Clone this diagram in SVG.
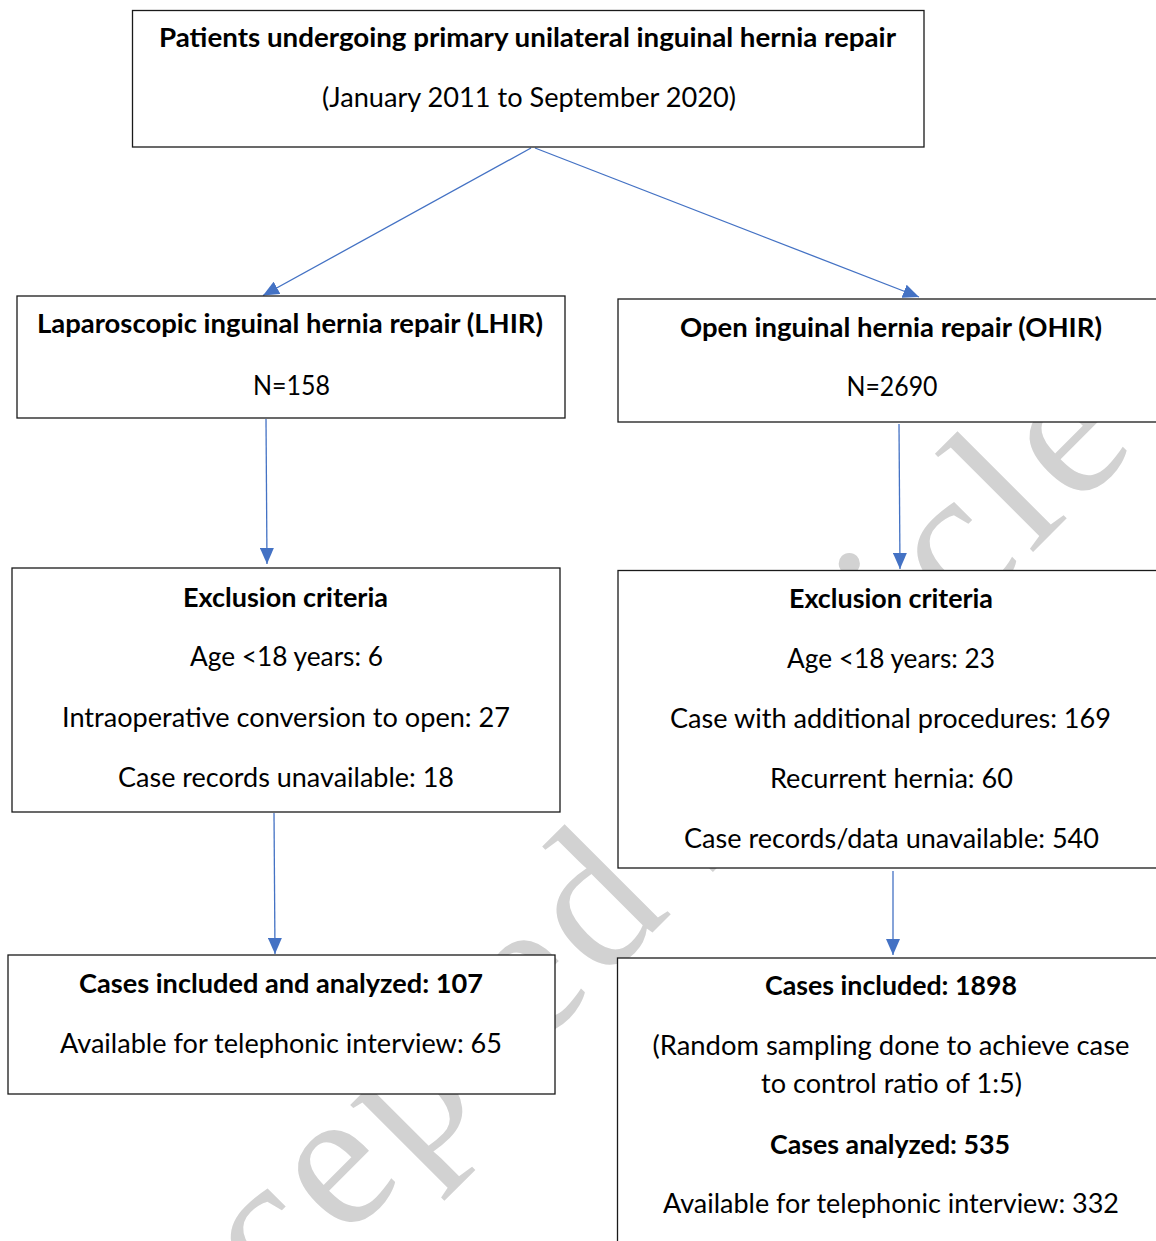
<svg xmlns="http://www.w3.org/2000/svg" width="1156" height="1241" viewBox="0 0 1156 1241">
<defs>
<style>
.box{fill:#fff;stroke:#1a1a1a;stroke-width:1.3}
.t{font-family:Lato,"Open Sans",sans-serif;font-size:26px;fill:#000;text-anchor:middle}
.b{font-weight:bold}
.c{stroke:#4472C4;stroke-width:1.3;fill:none}
.wm{font-family:"Liberation Serif",serif;font-size:200px;fill:#d2d2d2}
</style>
<marker id="ah" markerUnits="userSpaceOnUse" viewBox="0 0 16 14" markerWidth="16" markerHeight="14" refX="16" refY="7" orient="auto">
<path d="M0,0 L16,7 L0,14 z" fill="#4472C4"/>
</marker>
</defs>
<rect width="1156" height="1241" fill="#fff"/>
<text class="wm" x="0" y="0" letter-spacing="8" transform="translate(99,1486) rotate(-45)">Accepted Article</text>
<g id="connectors">
<line class="c" x1="531" y1="148" x2="263" y2="295.5" marker-end="url(#ah)"/>
<line class="c" x1="535" y1="148" x2="919" y2="297" marker-end="url(#ah)"/>
<line class="c" x1="266" y1="419" x2="267" y2="564" marker-end="url(#ah)"/>
<line class="c" x1="899" y1="424" x2="900" y2="569" marker-end="url(#ah)"/>
<line class="c" x1="274" y1="813" x2="275" y2="954" marker-end="url(#ah)"/>
<line class="c" x1="893" y1="871" x2="893" y2="955" marker-end="url(#ah)"/>
</g>
<g id="n-top">
<rect class="box" x="132.5" y="10.5" width="791.5" height="136.5"/>
<text class="t b" x="527.5" y="47" textLength="737" lengthAdjust="spacingAndGlyphs">Patients undergoing primary unilateral inguinal hernia repair</text>
<text class="t" x="529" y="107" textLength="414" lengthAdjust="spacingAndGlyphs">(January 2011 to September 2020)</text>
</g>
<g id="n-lhir">
<rect class="box" x="17" y="296" width="548" height="122"/>
<text class="t b" x="290" y="333" textLength="506" lengthAdjust="spacingAndGlyphs">Laparoscopic inguinal hernia repair (LHIR)</text>
<text class="t" x="291.5" y="395" textLength="77" lengthAdjust="spacingAndGlyphs">N=158</text>
</g>
<g id="n-ohir">
<rect class="box" x="618" y="299" width="560" height="123"/>
<text class="t b" x="891" y="337" textLength="422" lengthAdjust="spacingAndGlyphs">Open inguinal hernia repair (OHIR)</text>
<text class="t" x="892" y="396" textLength="91" lengthAdjust="spacingAndGlyphs">N=2690</text>
</g>
<g id="n-excl-left">
<rect class="box" x="12" y="568" width="548" height="244"/>
<text class="t b" x="285.5" y="607" textLength="205" lengthAdjust="spacingAndGlyphs">Exclusion criteria</text>
<text class="t" x="286.5" y="666" textLength="193" lengthAdjust="spacingAndGlyphs">Age &lt;18 years: 6</text>
<text class="t" x="286" y="727" textLength="448" lengthAdjust="spacingAndGlyphs">Intraoperative conversion to open: 27</text>
<text class="t" x="286" y="787" textLength="336" lengthAdjust="spacingAndGlyphs">Case records unavailable: 18</text>
</g>
<g id="n-excl-right">
<rect class="box" x="618" y="570.5" width="560" height="297.5"/>
<text class="t b" x="891" y="608" textLength="204" lengthAdjust="spacingAndGlyphs">Exclusion criteria</text>
<text class="t" x="891" y="668" textLength="208" lengthAdjust="spacingAndGlyphs">Age &lt;18 years: 23</text>
<text class="t" x="890.5" y="728" textLength="441" lengthAdjust="spacingAndGlyphs">Case with additional procedures: 169</text>
<text class="t" x="891.5" y="788" textLength="243" lengthAdjust="spacingAndGlyphs">Recurrent hernia: 60</text>
<text class="t" x="891.5" y="848" textLength="415" lengthAdjust="spacingAndGlyphs">Case records/data unavailable: 540</text>
</g>
<g id="n-cases-left">
<rect class="box" x="8" y="955" width="547" height="139"/>
<text class="t b" x="281" y="993" textLength="404" lengthAdjust="spacingAndGlyphs">Cases included and analyzed: 107</text>
<text class="t" x="281" y="1053" textLength="442" lengthAdjust="spacingAndGlyphs">Available for telephonic interview: 65</text>
</g>
<g id="n-cases-right">
<rect class="box" x="617.5" y="958" width="560" height="300"/>
<text class="t b" x="891" y="995" textLength="252" lengthAdjust="spacingAndGlyphs">Cases included: 1898</text>
<text class="t" x="891" y="1055" textLength="477" lengthAdjust="spacingAndGlyphs">(Random sampling done to achieve case</text>
<text class="t" x="891.5" y="1093" textLength="261" lengthAdjust="spacingAndGlyphs">to control ratio of 1:5)</text>
<text class="t b" x="890" y="1154" textLength="240" lengthAdjust="spacingAndGlyphs">Cases analyzed: 535</text>
<text class="t" x="891" y="1213" textLength="456" lengthAdjust="spacingAndGlyphs">Available for telephonic interview: 332</text>
</g>
</svg>
